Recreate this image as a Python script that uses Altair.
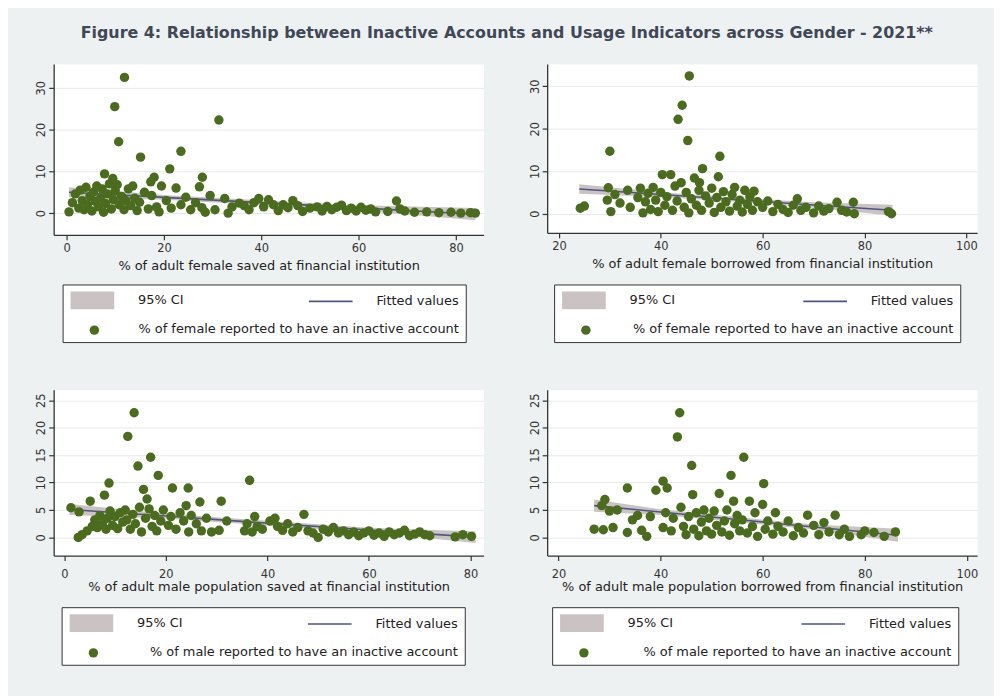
import altair as alt
import pandas as pd

TITLE = "Figure 4: Relationship between Inactive Accounts and Usage Indicators across Gender - 2021**"

# ---------------- data ----------------
# Panel 1: female saved at financial institution vs inactive accounts (female)
p1_points = [
    (0.5, 0.3), (1.2, 2.5), (1.8, 4.6), (2.5, 1.2), (2.8, 5.5), (3.2, 3.0), (3.6, 0.8), (4.0, 6.2),
    (4.3, 2.0), (4.8, 4.0), (5.2, 0.5), (5.5, 5.0), (5.9, 2.8), (6.2, 6.5), (6.6, 1.5), (7.0, 3.6),
    (7.3, 5.8), (7.6, 0.2), (8.0, 2.3), (8.4, 4.6), (8.8, 7.0), (9.2, 1.0), (9.6, 3.2), (10.0, 5.4),
    (10.4, 6.8), (10.8, 2.0), (11.3, 4.0), (11.8, 0.8), (12.2, 3.0), (12.7, 5.8), (13.2, 1.8),
    (13.6, 6.5), (14.0, 3.6), (14.5, 0.6), (15.0, 2.6), (16.0, 5.0),
    (7.8, 9.4), (9.5, 8.3), (9.9, 25.5), (10.7, 17.1), (11.9, 32.5), (15.2, 13.4), (17.3, 7.5),
    (18.0, 8.6), (19.0, 0.3), (21.2, 10.6), (23.5, 14.8), (27.3, 6.3), (27.9, 8.6), (31.3, 22.3),
    (16.8, 1.0), (17.5, 4.2), (18.5, 1.5), (19.5, 6.5), (20.5, 3.0), (21.5, 1.2), (22.5, 6.0),
    (23.5, 2.0), (24.5, 3.8), (25.5, 0.8), (26.5, 2.5), (27.8, 1.3), (28.5, 0.2), (29.5, 4.2),
    (30.5, 0.8), (32.5, 3.5), (33.2, 0.0), (34.0, 1.5),
    (35.5, 2.4), (36.5, 1.8), (37.5, 0.8), (38.5, 2.5), (39.5, 3.5), (40.5, 1.5), (41.5, 3.2),
    (42.5, 2.0), (43.5, 0.6), (44.5, 2.0), (45.5, 1.3), (46.5, 3.0), (47.5, 1.8), (48.5, 0.4),
    (50.0, 1.2), (51.5, 1.5), (52.5, 0.5), (53.5, 1.6), (54.5, 0.8), (55.5, 1.4), (56.5, 1.9),
    (57.5, 0.6), (58.5, 1.2), (59.5, 0.5), (60.5, 1.4), (61.5, 0.7), (62.5, 1.0), (63.5, 0.3),
    (66.0, 0.4), (67.8, 2.9), (68.5, 1.0), (69.5, 0.5), (71.5, 0.2), (74.0, 0.3), (76.5, 0.1),
    (79.0, 0.2), (81.0, 0.0), (83.0, 0.1), (84.0, 0.0),
]
p1_fit_x = [0.5, 20, 40, 60, 84]
p1_fit_y = [5.0, 3.77, 2.51, 1.25, -0.26]
p1_ci_lo = [3.8, 3.2, 1.95, 0.6, -1.7]
p1_ci_hi = [6.2, 4.35, 3.05, 1.9, 1.2]

# Panel 2: female borrowed from financial institution vs inactive accounts (female)
p2_points = [
    (24.2, 1.3), (25.0, 1.8), (29.7, 6.1), (29.5, 3.2), (30.2, 0.5), (30.0, 14.7), (31.0, 4.5),
    (32.0, 2.5), (33.5, 5.5), (34.0, 1.5), (35.5, 3.8), (36.0, 6.0), (36.5, 0.2), (37.0, 2.8),
    (37.5, 4.8), (38.0, 1.0), (38.5, 6.2), (39.0, 3.2), (39.5, 0.5), (40.0, 5.0), (40.3, 9.2),
    (40.8, 2.0), (41.2, 4.0), (41.95, 9.2), (42.3, 0.8), (42.8, 6.5), (43.4, 22.2), (43.2, 3.0),
    (44.0, 7.3), (44.2, 25.5), (44.6, 1.5), (45.0, 5.0), (45.3, 17.2), (45.6, 32.4), (45.5, 0.2),
    (46.0, 3.5), (46.6, 8.4), (47.0, 2.0), (47.6, 7.3), (47.5, 5.5), (48.2, 10.6), (48.0, 0.8),
    (48.8, 4.2), (49.5, 2.5), (50.0, 6.0), (50.5, 0.3), (51.0, 3.8), (51.3, 8.7), (51.6, 13.5),
    (51.8, 1.5), (52.3, 5.2), (52.8, 2.8), (53.5, 0.6), (54.0, 4.5), (54.5, 6.2), (55.0, 1.8),
    (55.5, 3.2), (56.0, 0.4), (56.5, 5.5), (57.0, 2.2), (57.5, 4.0), (58.3, 5.3), (58.0, 0.8),
    (59.0, 2.8), (60.0, 1.5), (61.0, 3.0), (62.0, 0.5), (63.0, 2.2), (64.0, 1.0), (65.0, 0.3),
    (66.0, 2.0), (66.8, 3.5), (67.5, 0.8), (68.5, 1.5), (70.0, 0.2), (71.0, 1.8), (72.0, 0.6),
    (73.0, 1.2), (74.6, 2.7), (75.5, 0.8), (76.5, 0.4), (77.8, 2.7), (78.0, 0.0), (84.7, 0.5),
    (85.3, 0.0),
]
p2_fit_x = [24, 40, 55, 70, 85.5]
p2_fit_y = [5.8, 4.5, 3.28, 2.06, 0.8]
p2_ci_lo = [4.7, 3.95, 2.8, 1.4, -0.5]
p2_ci_hi = [6.9, 5.05, 3.76, 2.7, 2.1]

# Panel 3: male population saved at financial institution vs inactive accounts (male)
p3_points = [
    (1.3, 5.4), (2.9, 4.65), (2.75, 0.0), (3.5, 0.5), (4.5, 1.2), (5.1, 6.6), (5.5, 2.0), (6.0, 3.2),
    (6.5, 1.8), (7.0, 4.0), (7.5, 2.5), (7.9, 7.7), (8.2, 1.5), (8.8, 9.9), (8.5, 3.5), (9.0, 4.8),
    (9.5, 2.2), (10.0, 3.8), (10.5, 1.6), (11.0, 4.5), (11.5, 2.8), (12.0, 5.0), (12.5, 18.4),
    (12.3, 3.2), (13.0, 1.5), (13.5, 4.2), (13.75, 22.7), (14.0, 2.5), (14.5, 13.0), (14.8, 5.5),
    (15.2, 1.0), (15.6, 8.75), (16.0, 3.5), (16.3, 7.0), (16.7, 5.2), (17.0, 14.6), (17.3, 2.0),
    (17.8, 4.0), (18.5, 11.3), (18.2, 1.2), (19.0, 3.0), (19.5, 5.0), (20.5, 2.2), (21.3, 9.0),
    (21.0, 3.8), (22.0, 1.5), (22.8, 4.5), (23.5, 3.0), (24.4, 9.0), (24.0, 5.8), (24.5, 1.0),
    (25.0, 4.0), (26.0, 2.5), (26.7, 6.45), (27.0, 1.2), (28.0, 3.5), (29.0, 1.0), (30.9, 6.6),
    (30.5, 1.3), (32.0, 3.0), (36.5, 10.4), (35.5, 1.2), (36.0, 2.5), (37.0, 1.0), (37.5, 3.8),
    (38.0, 2.0), (39.0, 1.5), (40.5, 3.0), (41.5, 3.5), (42.0, 2.0), (43.0, 1.3), (44.0, 2.5),
    (45.0, 1.0), (46.0, 1.8), (47.2, 4.2), (48.0, 1.2), (49.0, 0.8), (50.0, 0.0), (51.0, 1.5),
    (52.0, 1.0), (53.0, 1.8), (54.0, 0.8), (55.0, 1.2), (56.0, 0.5), (57.0, 1.0), (58.0, 0.3),
    (59.0, 0.8), (60.0, 1.2), (61.0, 0.4), (62.0, 0.8), (63.0, 0.2), (64.0, 1.0), (65.0, 0.5),
    (66.0, 0.8), (67.0, 1.3), (68.0, 0.3), (69.0, 0.6), (70.0, 1.0), (71.0, 0.5), (72.0, 0.3),
    (77.0, 0.1), (78.5, 0.5), (80.2, 0.2),
]
p3_fit_x = [1, 20, 40, 60, 81]
p3_fit_y = [5.1, 3.9, 2.6, 1.35, 0.05]
p3_ci_lo = [4.1, 3.45, 2.15, 0.95, -1.0]
p3_ci_hi = [6.1, 4.35, 3.05, 1.75, 1.1]

# Panel 4: male population borrowed from financial institution vs inactive accounts (male)
p4_points = [
    (27.0, 1.5), (28.8, 1.4), (30.7, 1.8), (29.1, 6.9), (28.5, 5.8), (30.0, 4.8), (31.5, 5.0),
    (33.5, 9.0), (33.5, 0.9), (34.5, 3.2), (35.5, 4.0), (36.3, 1.3), (37.3, 0.2), (38.0, 3.8),
    (39.1, 8.6), (40.5, 10.25), (41.3, 9.0), (40.5, 1.8), (42.1, 1.2), (41.0, 4.5), (42.5, 3.5),
    (43.3, 18.3), (43.75, 22.7), (44.0, 5.5), (44.5, 2.0), (45.0, 0.5), (45.5, 3.8), (46.1, 13.1),
    (46.3, 7.8), (46.5, 1.5), (47.0, 4.5), (47.5, 0.3), (48.0, 2.8), (48.5, 5.0), (49.0, 1.2),
    (49.5, 3.5), (50.0, 0.6), (50.5, 4.8), (51.0, 2.2), (51.5, 8.0), (52.0, 1.0), (52.5, 3.0),
    (53.0, 5.0), (53.8, 11.3), (53.5, 0.4), (54.3, 6.6), (54.5, 2.5), (55.0, 4.0), (55.5, 1.2),
    (56.3, 14.6), (56.0, 3.2), (57.4, 6.6), (57.0, 0.8), (58.0, 2.0), (58.5, 4.5), (59.0, 0.2),
    (60.0, 6.0), (60.2, 9.8), (60.5, 1.5), (61.0, 3.0), (62.0, 0.6), (62.5, 4.5), (63.0, 2.0),
    (64.0, 1.0), (65.0, 3.0), (66.0, 0.3), (67.0, 1.8), (68.8, 4.05), (68.0, 0.8), (70.0, 2.2),
    (71.0, 0.5), (72.0, 2.7), (73.0, 1.0), (74.2, 4.05), (75.0, 0.5), (76.0, 1.5), (77.0, 0.2),
    (79.3, 0.5), (80.0, 1.2), (81.8, 0.9), (83.8, 0.2), (86.0, 1.0),
]
p4_fit_x = [27, 40, 55, 70, 86.5]
p4_fit_y = [5.8, 4.62, 3.26, 1.9, 0.4]
p4_ci_lo = [4.7, 4.1, 2.8, 1.45, -0.8]
p4_ci_hi = [6.9, 5.15, 3.72, 2.35, 1.6]

x_titles = [
    "% of adult female saved at financial institution",
    "% of adult female borrowed from financial institution",
    "% of adult male population saved at financial institution",
    "% of adult male population borrowed from financial institution",
]
legend_ci = "95% CI"
legend_fit = "Fitted values"
legend_female = "% of female reported to have an inactive account"
legend_male = "% of male reported to have an inactive account"

# ---------------- styling ----------------
FONT = "DejaVu Sans"
BG = "#eef1f1"
CI_COLOR = "#cbc3c3"
LINE_COLOR = "#4e5680"
DOT_COLOR = "#4b6b1f"
TEXT = "#222222"

SHAPE_CI = "M-2.2,-0.9H2.2V0.9H-2.2Z"
SHAPE_LINE = "M-2.2,-0.08H2.2V0.08H-2.2Z"
DOT_SIZE = 90


def panel(points, fx, fy, flo, fhi, xdom, ydom, xticks, yticks, xtitle, dot_label,
          height, lx, ly, label_pad, title_pad, col_pad):
    pts = pd.DataFrame({"x": [p[0] for p in points], "y": [p[1] for p in points],
                        "series": dot_label})
    fit_df = pd.DataFrame({"x": fx, "fit": fy, "lo": flo, "hi": fhi})
    # the fitted points again, tagged with the two key names (invisible, feeds the key only)
    key_df = pd.DataFrame({"x": fx + fx, "y": fy + fy,
                           "k": [legend_ci] * len(fx) + [legend_fit] * len(fx)})
    xsc = alt.Scale(domain=xdom, nice=False, zero=False)
    ysc = alt.Scale(domain=ydom, nice=False, zero=False)
    xax = alt.Axis(values=xticks, title=xtitle, grid=False, labelPadding=label_pad,
                   titlePadding=title_pad, format="d")
    yax = alt.Axis(values=yticks, title=None, grid=True, labelAngle=270, format="d",
                   labelPadding=2)

    # boxed key: CI and fitted line on the first row, scatter series text below
    leg_a = alt.Legend(
        title=dot_label, titleOrient="bottom", titleAnchor="end", titlePadding=14,
        titleFont=FONT, titleFontSize=13, titleFontWeight="normal", titleColor=TEXT,
        titleLimit=600,
        orient="none", legendX=lx, legendY=ly, columns=2, columnPadding=col_pad,
        symbolSize=400, symbolOffset=14, labelOffset=36, symbolOpacity=1,
        symbolStrokeWidth=0,
        strokeColor="#333333", fillColor="white", padding=6,
        labelFont=FONT, labelFontSize=13, labelColor=TEXT, labelLimit=500,
    )
    # the scatter series' dot, placed in the second row of the box
    leg_b = alt.Legend(
        title=None, orient="none", legendX=lx + 27, legendY=ly + 41,
        symbolSize=DOT_SIZE, symbolOffset=0, symbolStrokeWidth=0, symbolOpacity=1,
        labelExpr="''", padding=0,
    )
    dom_a = [legend_ci, legend_fit]
    band = alt.Chart(fit_df).mark_area(color=CI_COLOR, opacity=1).encode(
        x=alt.X("x:Q", scale=xsc, axis=xax),
        y=alt.Y("lo:Q", scale=ysc, axis=yax),
        y2="hi:Q",
    )
    line = alt.Chart(fit_df).mark_line(color=LINE_COLOR, strokeWidth=1.6).encode(
        x=alt.X("x:Q", scale=xsc, axis=xax),
        y=alt.Y("fit:Q", scale=ysc, axis=yax),
    )
    keys = alt.Chart(key_df).mark_point(filled=True, opacity=0).encode(
        x=alt.X("x:Q", scale=xsc, axis=xax),
        y=alt.Y("y:Q", scale=ysc, axis=yax),
        fill=alt.Fill("k:N", scale=alt.Scale(domain=dom_a, range=[CI_COLOR, LINE_COLOR]),
                      legend=leg_a),
        shape=alt.Shape("k:N", scale=alt.Scale(domain=dom_a, range=[SHAPE_CI, SHAPE_LINE]),
                        legend=leg_a),
    )
    dots = alt.Chart(pts).mark_point(filled=True, opacity=1, size=DOT_SIZE, shape="circle").encode(
        x=alt.X("x:Q", scale=xsc, axis=xax),
        y=alt.Y("y:Q", scale=ysc, axis=yax),
        color=alt.Color("series:N", scale=alt.Scale(domain=[dot_label], range=[DOT_COLOR]),
                        legend=leg_b),
    )
    return alt.layer(band, line, keys, dots).properties(width=433, height=height)


c1 = panel(p1_points, p1_fit_x, p1_fit_y, p1_ci_lo, p1_ci_hi, [-2.65, 85.7], [-5.2, 35.7],
           [0, 20, 40, 60, 80], [0, 10, 20, 30], x_titles[0], legend_female, 172, 9, 222, 3, 5, 124)
c2 = panel(p2_points, p2_fit_x, p2_fit_y, p2_ci_lo, p2_ci_hi, [17.7, 102.1], [-4.5, 35.2],
           [20, 40, 60, 80, 100], [0, 10, 20, 30], x_titles[1], legend_female, 170, 7, 222, 3, 5, 127)
c3 = panel(p3_points, p3_fit_x, p3_fit_y, p3_ci_lo, p3_ci_hi, [-2.1, 82.6], [-3.3, 26.9],
           [0, 20, 40, 60, 80], [0, 5, 10, 15, 20, 25], x_titles[2], legend_male, 167, 8, 219, 8, 1, 124)
c4 = panel(p4_points, p4_fit_x, p4_fit_y, p4_ci_lo, p4_ci_hi, [17.8, 102.0], [-3.3, 26.9],
           [20, 40, 60, 80, 100], [0, 5, 10, 15, 20, 25], x_titles[3], legend_male, 167, 5, 219, 8, 1, 127)

RES = dict(color="independent", fill="independent", shape="independent")
row1 = alt.hconcat(c1, c2, spacing=44).resolve_scale(**RES)
row2 = alt.hconcat(c3, c4, spacing=44).resolve_scale(**RES)

chart = (
    alt.vconcat(row1, row2, spacing=46)
    .resolve_scale(**RES)
    .properties(
        title=alt.TitleParams(TITLE, font=FONT, fontSize=16, fontWeight="bold", color="#404858",
                              anchor="middle", offset=23),
        padding={"left": 27, "top": 14, "right": 15, "bottom": 28},
        background=BG,
    )
    .configure_view(fill="white", stroke="transparent")
    .configure_axis(
        domainColor="#333333", domainWidth=1.3, tickColor="#333333", tickSize=5, tickWidth=1.2,
        labelFont=FONT, labelFontSize=11.5, labelColor="#333333",
        titleFont=FONT, titleFontSize=13, titleFontWeight="normal", titleColor=TEXT,
        gridColor="#e9e9e9", gridWidth=1,
    )
)

chart.save("out.html", embed_options={"renderer": "svg", "actions": False})
